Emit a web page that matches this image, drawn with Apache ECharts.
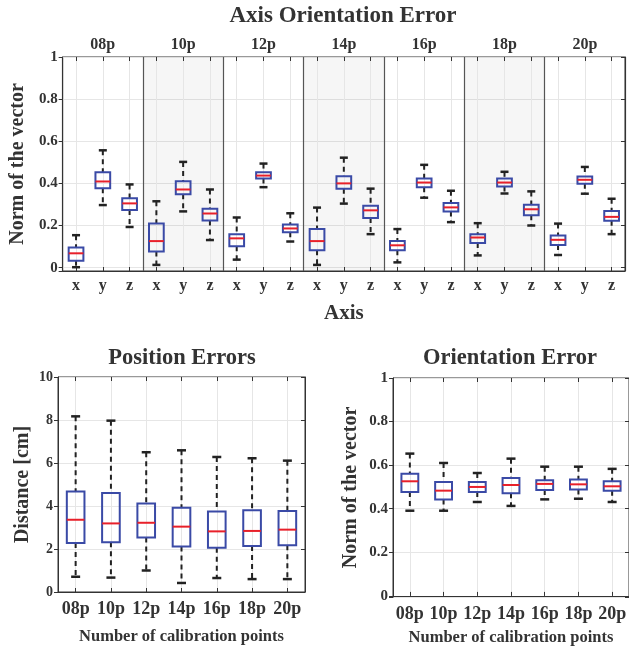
<!DOCTYPE html>
<html>
<head>
<meta charset="utf-8">
<script src="https://cdn.jsdelivr.net/npm/echarts@6/dist/echarts.min.js"></script>
<style>
html, body { margin: 0; background: #fff; }
#chart { width: 629px; height: 648px; }
</style>
</head>
<body>
<div id="chart"></div>
<script>
// calibration point counts
const groupNames = ['08p', '10p', '12p', '14p', '16p', '18p', '20p'];
// x, y, z per group in the top plot
const axisNames = ['x', 'y', 'z', 'x', 'y', 'z', 'x', 'y', 'z', 'x', 'y', 'z', 'x', 'y', 'z', 'x', 'y', 'z', 'x', 'y', 'z'];

// Axis orientation error (top) : whisker low, q1, median, q3, whisker high
const axLow  = [0.002, 0.297, 0.193, 0.013, 0.267, 0.131, 0.038, 0.382, 0.124, 0.013, 0.304, 0.159, 0.025, 0.332, 0.216, 0.058, 0.352, 0.200, 0.060, 0.351, 0.159];
const axQ1   = [0.033, 0.377, 0.274, 0.077, 0.348, 0.224, 0.102, 0.423, 0.168, 0.083, 0.375, 0.236, 0.083, 0.382, 0.267, 0.117, 0.385, 0.249, 0.107, 0.398, 0.222];
const axMed  = [0.068, 0.409, 0.305, 0.126, 0.371, 0.257, 0.139, 0.437, 0.186, 0.126, 0.400, 0.272, 0.106, 0.404, 0.286, 0.143, 0.404, 0.277, 0.132, 0.417, 0.241];
const axQ3   = [0.096, 0.453, 0.329, 0.209, 0.410, 0.280, 0.159, 0.453, 0.205, 0.183, 0.434, 0.294, 0.127, 0.423, 0.307, 0.158, 0.423, 0.299, 0.153, 0.433, 0.269];
const axHigh = [0.154, 0.557, 0.395, 0.315, 0.502, 0.371, 0.238, 0.494, 0.258, 0.285, 0.522, 0.375, 0.183, 0.488, 0.365, 0.211, 0.455, 0.362, 0.209, 0.478, 0.327];

// Position errors [cm]
const posLow  = [0.71, 0.67, 1.00, 0.42, 0.65, 0.60, 0.60];
const posQ1   = [2.28, 2.31, 2.53, 2.12, 2.06, 2.14, 2.17];
const posMed  = [3.36, 3.19, 3.22, 3.04, 2.82, 2.84, 2.90];
const posQ3   = [4.68, 4.60, 4.12, 3.92, 3.75, 3.80, 3.77];
const posHigh = [8.17, 7.97, 6.50, 6.59, 6.28, 6.22, 6.11];

// Orientation error (norm)
const oriLow  = [0.391, 0.391, 0.431, 0.413, 0.443, 0.446, 0.431];
const oriQ1   = [0.477, 0.442, 0.477, 0.471, 0.486, 0.488, 0.483];
const oriMed  = [0.526, 0.483, 0.500, 0.509, 0.514, 0.512, 0.503];
const oriQ3   = [0.561, 0.523, 0.523, 0.541, 0.531, 0.534, 0.526];
const oriHigh = [0.653, 0.610, 0.564, 0.630, 0.593, 0.593, 0.583];

const FONT = 'Liberation Serif';
const TXT = '#333';
const GRIDC = '#e6e6e6';

let chart = echarts.init(document.getElementById('chart'), null, { renderer: 'canvas' });

// one box: dashed whiskers, short caps, blue box, red median
function boxSeries(xIdx, yIdx, low, q1, med, q3, high, boxFrac, capHalf) {
    return {
        type: 'custom',
        xAxisIndex: xIdx,
        yAxisIndex: yIdx,
        data: low.map((v, i) => [i, v, q1[i], med[i], q3[i], high[i]]),
        encode: { x: 0, y: [1, 2, 3, 4, 5] },
        renderItem: (params, api) => {
            const i = api.value(0);
            const pLow = api.coord([i, api.value(1)]);
            const cx = pLow[0];
            const yLo = pLow[1];
            const yQ1 = api.coord([i, api.value(2)])[1];
            const yMd = api.coord([i, api.value(3)])[1];
            const yQ3 = api.coord([i, api.value(4)])[1];
            const yHi = api.coord([i, api.value(5)])[1];
            const half = api.size([1, 0])[0] * boxFrac / 2;
            const dash = { stroke: '#222', lineWidth: 2, lineDash: [5, 4] };
            const solid = { stroke: '#222', lineWidth: 2.5 };
            return {
                type: 'group',
                children: [
                    { type: 'line', shape: { x1: cx, y1: yHi, x2: cx, y2: yQ3 }, style: dash },
                    { type: 'line', shape: { x1: cx, y1: yQ1, x2: cx, y2: yLo }, style: dash },
                    { type: 'line', shape: { x1: cx - capHalf, y1: yHi, x2: cx + capHalf, y2: yHi }, style: solid },
                    { type: 'line', shape: { x1: cx - capHalf, y1: yLo, x2: cx + capHalf, y2: yLo }, style: solid },
                    { type: 'rect', shape: { x: cx - half, y: yQ3, width: half * 2, height: yQ1 - yQ3 },
                      style: { fill: 'transparent', stroke: '#3a4aa6', lineWidth: 2 } },
                    { type: 'line', shape: { x1: cx - half, y1: yMd, x2: cx + half, y2: yMd },
                      style: { stroke: '#e8202a', lineWidth: 2 } }
                ]
            };
        }
    };
}

function tickLabel(v) {
    if (Math.abs(v * 5 - Math.round(v * 5)) > 1e-6) return '';
    return String(Math.round(v * 10) / 10);
}

const labelStyle = { fontFamily: FONT, fontWeight: 'bold', color: TXT };
const nameStyle = { fontFamily: FONT, fontWeight: 'bold', color: TXT, fontSize: 20 };

// hidden value axis only used for light vertical grid lines at category centers
function gridValueAxis(gridIndex, n) {
    return {
        type: 'value', gridIndex: gridIndex, min: 0.5, max: n + 0.5, splitNumber: n,
        position: 'bottom',
        axisLine: { show: false }, axisTick: { show: false }, axisLabel: { show: false },
        splitLine: { show: true, lineStyle: { color: GRIDC, width: 1 } }
    };
}

function catAxis(gridIndex, data, fontSize, margin, name, nameGap, nameSize) {
    return {
        type: 'category', gridIndex: gridIndex, data: data, position: 'bottom',
        axisLine: { show: true, lineStyle: { color: TXT, width: 1 } },
        axisTick: { show: true, inside: true, alignWithLabel: true, length: 4, lineStyle: { color: TXT } },
        axisLabel: Object.assign({ fontSize: fontSize, margin: margin, interval: 0 }, labelStyle),
        splitLine: { show: false },
        name: name, nameLocation: 'middle', nameGap: nameGap,
        nameTextStyle: Object.assign({}, nameStyle, { fontSize: nameSize })
    };
}

// ticks only, along the top edge of the box
function topTickAxis(gridIndex, data) {
    return {
        type: 'category', gridIndex: gridIndex, data: data, position: 'top',
        axisLine: { show: false }, axisLabel: { show: false }, splitLine: { show: false },
        axisTick: { show: true, inside: true, alignWithLabel: true, length: 4, lineStyle: { color: TXT } }
    };
}

function leftAxis(gridIndex, min, max, extra) {
    return Object.assign({
        type: 'value', gridIndex: gridIndex, min: min, max: max, position: 'left',
        axisLine: { show: true, lineStyle: { color: TXT, width: 1 } },
        axisTick: { show: true, length: 4, lineStyle: { color: TXT } },
        axisLabel: Object.assign({ fontSize: 14, margin: 5 }, labelStyle),
        splitLine: { show: true, lineStyle: { color: GRIDC, width: 1 } },
        nameLocation: 'middle', nameTextStyle: nameStyle
    }, extra);
}

function rightAxis(gridIndex, min, max, extra) {
    return Object.assign({
        type: 'value', gridIndex: gridIndex, min: min, max: max, position: 'right',
        axisLine: { show: true, lineStyle: { color: TXT, width: 1 } },
        axisTick: { show: true, inside: true, length: 4, lineStyle: { color: TXT } },
        axisLabel: { show: false },
        splitLine: { show: false }
    }, extra);
}

const frame = { show: true, borderColor: TXT, borderWidth: 1, backgroundColor: 'transparent' };

let option = {
    animation: false,
    backgroundColor: '#fff',
    title: [
        { text: 'Axis Orientation Error', left: 343, top: 5, textAlign: 'center', padding: 0,
          textStyle: { fontFamily: FONT, fontWeight: 'bold', fontSize: 23, color: TXT } },
        { text: 'Position Errors', left: 182, top: 347, textAlign: 'center', padding: 0,
          textStyle: { fontFamily: FONT, fontWeight: 'bold', fontSize: 22.5, color: TXT } },
        { text: 'Orientation Error', left: 510, top: 347, textAlign: 'center', padding: 0,
          textStyle: { fontFamily: FONT, fontWeight: 'bold', fontSize: 22.5, color: TXT } }
    ],
    grid: [
        Object.assign({ left: 58, right: 4, top: 57, height: 214 }, frame),
        Object.assign({ left: 58, width: 247, top: 377, height: 215 }, frame),
        Object.assign({ left: 393, width: 240, top: 378, height: 219 }, frame)
    ],
    xAxis: [
        // 0: group labels on top, dark separators, alternate shading
        {
            type: 'category', gridIndex: 0, data: groupNames, position: 'top',
            axisLine: { show: false }, axisTick: { show: false },
            axisLabel: Object.assign({ fontSize: 16, margin: 4, interval: 0 }, labelStyle),
            splitLine: { show: true, interval: 0, lineStyle: { color: '#555', width: 1.2 } },
            splitArea: { show: true, interval: 0, areaStyle: { color: ['rgba(0,0,0,0)', 'rgba(0,0,0,0.035)'] } }
        },
        // 1: light vertical grid (top)
        gridValueAxis(0, axisNames.length),
        // 2: x / y / z
        catAxis(0, axisNames, 16, 7, 'Axis', 32, 21),
        // 3, 4: position errors
        gridValueAxis(1, groupNames.length),
        catAxis(1, groupNames, 18, 8, 'Number of calibration points', 36, 16.5),
        // 5, 6: orientation error
        gridValueAxis(2, groupNames.length),
        catAxis(2, groupNames, 18, 8, 'Number of calibration points', 32, 16.5),
        // 7, 8, 9: top-edge ticks
        topTickAxis(0, axisNames),
        topTickAxis(1, groupNames),
        topTickAxis(2, groupNames)
    ],
    yAxis: [
        leftAxis(0, -0.016, 1, { splitNumber: 5, axisLabel: Object.assign({ fontSize: 15, margin: 5, formatter: tickLabel }, labelStyle),
            name: 'Norm of the vector', nameGap: 31 }),
        rightAxis(0, -0.016, 1, { splitNumber: 5 }),
        leftAxis(1, 0, 10, { interval: 2, name: 'Distance [cm]', nameGap: 25 }),
        rightAxis(1, 0, 10, { interval: 2 }),
        leftAxis(2, -0.005, 1, { splitNumber: 5, axisLabel: Object.assign({ fontSize: 15, margin: 5, formatter: tickLabel }, labelStyle),
            name: 'Norm of the vector', nameGap: 32 }),
        rightAxis(2, -0.005, 1, { splitNumber: 5 })
    ],
    series: [
        boxSeries(2, 0, axLow, axQ1, axMed, axQ3, axHigh, 0.55, 4),
        boxSeries(4, 2, posLow, posQ1, posMed, posQ3, posHigh, 0.5, 4.5),
        boxSeries(6, 4, oriLow, oriQ1, oriMed, oriQ3, oriHigh, 0.5, 4.5)
    ]
};

chart.setOption(option);
</script>
</body>
</html>
